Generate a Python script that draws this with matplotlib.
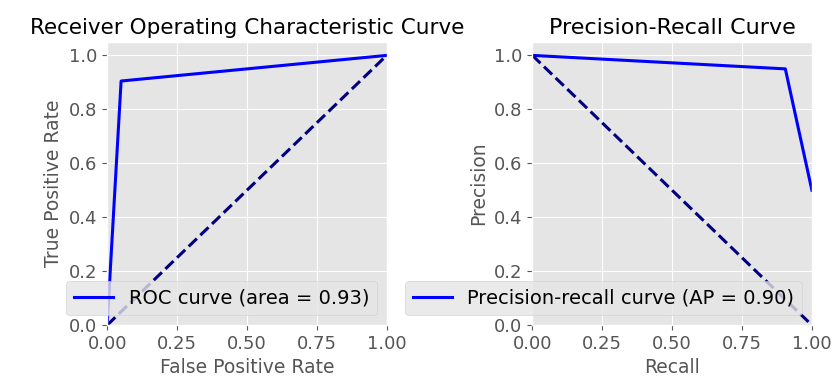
import matplotlib
matplotlib.use("Agg")
import matplotlib.pyplot as plt

# ROC curve points
fpr = [0.0, 0.0, 0.05, 1.0]
tpr = [0.0, 0.0, 0.905, 1.0]
roc_auc = 0.93

# Precision-recall curve points
recall = [1.0, 0.905, 0.0]
precision = [0.5, 0.95, 1.0]
avg_precision = 0.90

x_ticks = [0.0, 0.25, 0.5, 0.75, 1.0]

plt.style.use("ggplot")

fig = plt.figure(figsize=(8.37, 3.88), dpi=100)
ax1 = fig.add_axes([0.128, 0.162, 0.334, 0.730])
ax2 = fig.add_axes([0.636, 0.162, 0.334, 0.730])

# ROC
ax1.plot(fpr, tpr, color="blue", lw=2.2, label=f"ROC curve (area = {roc_auc:.2f})")
ax1.plot([0, 1], [0, 1], color="navy", lw=2.2, linestyle="--")
ax1.set_xlim([0.0, 1.0])
ax1.set_ylim([0.0, 1.05])
ax1.set_xlabel("False Positive Rate", fontsize=13.5)
ax1.set_ylabel("True Positive Rate", fontsize=13.5)
ax1.set_title("Receiver Operating Characteristic Curve", fontsize=15.5)
ax1.legend(loc="lower right", fontsize=14)

# Precision-recall
ax2.plot(recall, precision, color="blue", lw=2.2,
         label=f"Precision-recall curve (AP = {avg_precision:.2f})")
ax2.plot([0, 1], [1, 0], color="navy", lw=2.2, linestyle="--")
ax2.set_xlim([0.0, 1.0])
ax2.set_ylim([0.0, 1.05])
ax2.set_xlabel("Recall", fontsize=13.5)
ax2.set_ylabel("Precision", fontsize=13.5)
ax2.set_title("Precision-Recall Curve", fontsize=16)
ax2.legend(loc="lower right", fontsize=14)

for ax in (ax1, ax2):
    ax.set_xticks(x_ticks)
    ax.tick_params(labelsize=13)

fig.savefig("out.png", dpi=100)
